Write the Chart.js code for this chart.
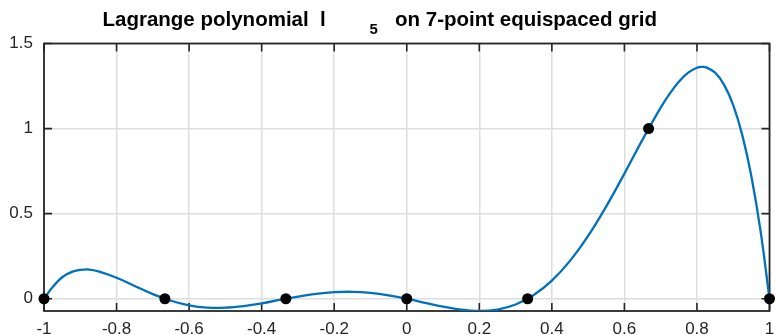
<!DOCTYPE html>
<html>
<head>
<meta charset="utf-8">
<script src="https://cdn.jsdelivr.net/npm/chart.js@4/dist/chart.umd.min.js"></script>
<style>
  html, body { margin: 0; padding: 0; background: #ffffff; }
  #wrap { width: 775px; height: 335px; position: relative; }
</style>
</head>
<body>
<div id="wrap"><canvas id="c" width="775" height="335"></canvas></div>
<script>
// Interpolation nodes of the 7-point equispaced grid and the values of l5 there
const nodeX = [-1, -0.6667, -0.3333, 0, 0.3333, 0.6667, 1];
const nodeY = [0, 0, 0, 0, 0, 1, 0];

// Sampled curve of l5(x)
const curveX = [
  -1, -0.975, -0.95, -0.925, -0.9, -0.875, -0.85, -0.8, -0.75, -0.7, -0.65, -0.6, -0.55,
  -0.5, -0.45, -0.4, -0.35, -0.3, -0.25, -0.2, -0.15, -0.1, -0.05,
  0, 0.05, 0.1, 0.15, 0.2, 0.25, 0.3, 0.35, 0.4, 0.45,
  0.5, 0.55, 0.6, 0.65, 0.7, 0.725, 0.75, 0.775, 0.8, 0.815,
  0.825, 0.85, 0.875, 0.9, 0.925, 0.95, 0.975, 1
];
const curveY = [
  0, 0.0720, 0.1262, 0.1567, 0.1694, 0.1717, 0.1606, 0.1234, 0.0750, 0.0274, -0.0118, -0.0387, -0.0520,
  -0.0527, -0.0432, -0.0266, -0.0067, 0.0128, 0.0288, 0.0387, 0.0408, 0.0345, 0.0203,
  0, -0.0236, -0.0466, -0.0645, -0.0719, -0.0635, -0.0339, 0.0216, 0.1065, 0.2225,
  0.3691, 0.5427, 0.7354, 0.9350, 1.1230, 1.2053, 1.2747, 1.3270, 1.3572, 1.3625,
  1.3598, 1.3287, 1.2571, 1.1374, 0.9614, 0.7199, 0.4031, 0
];

// Axis ticks
const xTicks = [-1, -0.8, -0.6, -0.4, -0.2, 0, 0.2, 0.4, 0.6, 0.8, 1];
const yTicks = [0, 0.5, 1, 1.5];

const FONT = "'Liberation Sans', Arial, Helvetica, sans-serif";
const AXIS_DARK = '#262626';

const fmt = v => String(Math.round(v * 10) / 10);

// Box around the plot with short inward tick marks on all four sides
const framePlugin = {
  id: 'frame',
  beforeDatasetsDraw(chart) {
    const { ctx, chartArea: a, scales } = chart;
    const sx = scales.x, sy = scales.y;
    const len = 8;
    ctx.save();
    ctx.strokeStyle = AXIS_DARK;
    ctx.lineWidth = 1.6;
    ctx.beginPath();
    xTicks.forEach(v => {
      const px = sx.getPixelForValue(v);
      ctx.moveTo(px, a.bottom); ctx.lineTo(px, a.bottom - len);
      ctx.moveTo(px, a.top); ctx.lineTo(px, a.top + len);
    });
    yTicks.forEach(v => {
      const py = sy.getPixelForValue(v);
      ctx.moveTo(a.left, py); ctx.lineTo(a.left + len, py);
      ctx.moveTo(a.right, py); ctx.lineTo(a.right - len, py);
    });
    ctx.stroke();
    ctx.lineWidth = 1.8;
    ctx.strokeRect(a.left, a.top, a.right - a.left, a.bottom - a.top);
    ctx.restore();
  }
};

// Title with a subscript index on the polynomial name
const titlePlugin = {
  id: 'subTitle',
  afterDraw(chart) {
    const ctx = chart.ctx;
    ctx.save();
    ctx.fillStyle = '#000000';
    ctx.textBaseline = 'alphabetic';
    ctx.textAlign = 'left';
    ctx.font = "bold 20.5px " + FONT;
    ctx.fillText('Lagrange polynomial  l', 102.5, 25.5);
    ctx.fillText('on 7-point equispaced grid', 395, 25.5);
    ctx.font = "bold 15px " + FONT;
    ctx.fillText('5', 369.5, 33.5);
    ctx.restore();
  }
};

const tickFont = { family: FONT, size: 17 };

new Chart(document.getElementById('c'), {
  data: {
    datasets: [
      {
        type: 'scatter',
        label: 'nodes',
        data: nodeX.map((x, i) => ({ x, y: nodeY[i] })),
        backgroundColor: '#000000',
        borderColor: '#000000',
        pointRadius: 5.5,
        pointHoverRadius: 5.5,
        borderWidth: 0,
        clip: false,
        order: 0
      },
      {
        type: 'line',
        label: 'l5',
        data: curveX.map((x, i) => ({ x, y: curveY[i] })),
        borderColor: '#0072BD',
        borderWidth: 2.3,
        pointRadius: 0,
        fill: false,
        tension: 0.4,
        order: 1
      }
    ]
  },
  options: {
    responsive: false,
    animation: false,
    devicePixelRatio: 1,
    layout: { padding: { top: 43.5, right: 5, left: 0, bottom: 0 } },
    plugins: {
      legend: { display: false },
      title: { display: false },
      tooltip: { enabled: false }
    },
    scales: {
      x: {
        type: 'linear',
        min: -1,
        max: 1,
        afterBuildTicks: s => { s.ticks = xTicks.map(v => ({ value: v })); },
        afterFit: s => { s.height = 24; s.paddingLeft = 0; s.paddingRight = 0; },
        grid: { color: '#dedede', lineWidth: 1.5, drawTicks: false },
        border: { display: false },
        ticks: { color: AXIS_DARK, font: tickFont, padding: 8, maxRotation: 0, autoSkip: false, callback: v => fmt(v) }
      },
      y: {
        type: 'linear',
        min: -0.072,
        max: 1.5,
        afterBuildTicks: s => { s.ticks = yTicks.map(v => ({ value: v })); },
        afterFit: s => { s.width = 44; s.paddingTop = 0; s.paddingBottom = 0; },
        grid: { color: '#dedede', lineWidth: 1.5, drawTicks: false },
        border: { display: false },
        ticks: { color: AXIS_DARK, font: tickFont, padding: 11, callback: v => fmt(v) }
      }
    }
  },
  plugins: [framePlugin, titlePlugin]
});
</script>
</body>
</html>
